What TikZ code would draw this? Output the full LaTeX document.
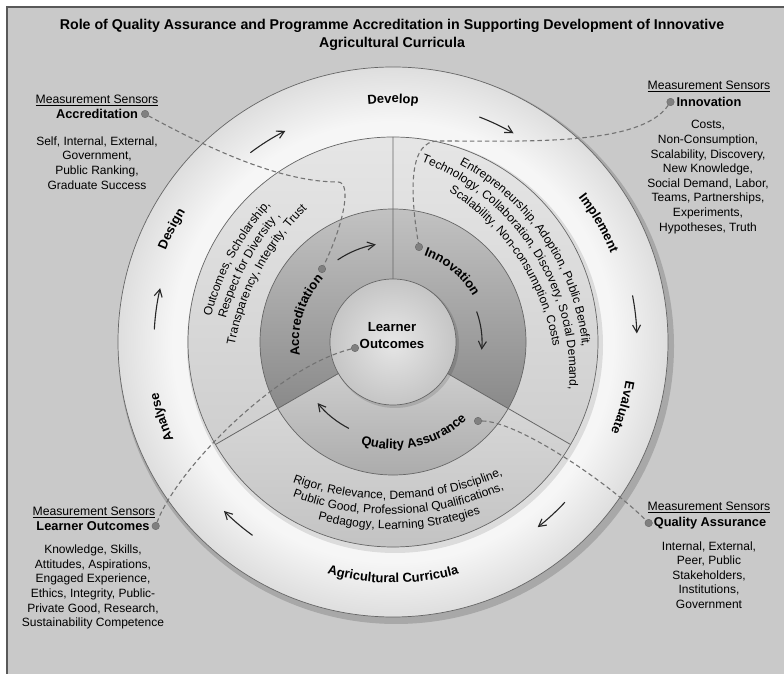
\documentclass[tikz,border=0pt]{standalone}
\usepackage{fontspec}
\setmainfont{Liberation Sans}
\usepackage{tikz}
\usetikzlibrary{arrows.meta,positioning,decorations.text}
\definecolor{curpanel}{gray}{0.79}
\definecolor{curframe}{gray}{0.35}
\definecolor{curouter}{gray}{0.965}
\definecolor{curouteredge}{gray}{0.87}
\definecolor{curmidhi}{gray}{0.90}
\definecolor{curmidlo}{gray}{0.81}
\definecolor{curqahi}{gray}{0.84}
\definecolor{curqalo}{gray}{0.75}
\definecolor{curinhi}{gray}{0.76}
\definecolor{curinlo}{gray}{0.54}
\definecolor{curinqahi}{gray}{0.80}
\definecolor{curinqalo}{gray}{0.65}
\definecolor{curcorefill}{gray}{0.84}
\definecolor{curline}{gray}{0.40}
\definecolor{curdash}{gray}{0.45}
\definecolor{curdotgray}{gray}{0.50}
\pgfdeclareradialshading{curglow}{\pgfpoint{0bp}{0bp}}{color(0bp)=(curouter); color(20bp)=(curouter); color(25bp)=(curouteredge); color(50bp)=(curouteredge)}
\newcommand\curringfont{\fontsize{13}{15}\selectfont\bfseries}
\newcommand\curbandfont{\fontsize{12}{14}\selectfont}
% text on an arc: font, mid angle, baseline radius, curvature radius, half span, text
\newcommand\curarc[6]{%
  \pgfmathsetmacro\curoff{#3-#4}%
  \pgfmathsetmacro\curst{#2+#5}%
  \pgfmathsetmacro\curen{#2-#5}%
  \path[decorate,decoration={text along path,text align=center,text={|#1|#6}}]
    ([shift={(#2:\curoff)}]\curst:#4) arc[start angle=\curst,end angle=\curen,radius=#4];}
\tikzset{
  curtitle/.style={font=\bfseries\fontsize{14.2}{17.5}\selectfont,align=center},
  curms/.style={font=\fontsize{12.2}{14}\selectfont,inner sep=1pt},
  curhead/.style={font=\bfseries\fontsize{12.8}{14}\selectfont,inner sep=1pt},
  curbody/.style={font=\fontsize{12}{14.6}\selectfont,align=center,inner sep=1pt},
  curcore/.style={font=\bfseries\fontsize{13.2}{17}\selectfont,align=center},
  curdot/.style={circle,fill=curdotgray,draw=curdotgray!80!black,line width=0.4pt,
                 inner sep=0pt,minimum size=7.5pt},
  curlink/.style={draw=curdash,line width=1.1pt,dash pattern=on 4.5pt off 3pt},
  curflow/.style={-{Straight Barb[length=2.6mm,width=2.8mm]},line width=1.1pt,black!85},
  curdivide/.style={draw=curline,line width=0.8pt},
  curedge/.style={draw=curline,line width=0.7pt}
}
\begin{document}
\begin{tikzpicture}[x=1pt,y=1pt]
  \useasboundingbox (0,0) rectangle (784,674);
  \fill[curpanel] (7,0) rectangle (784,667);
  \draw[curframe,line width=1.6pt] (7,-2) -- (7,667) -- (786,667);

  \node[curtitle] (title) at (392,639)
    {Role of Quality Assurance and Programme Accreditation in Supporting Development of Innovative\\Agricultural Curricula};

  \begin{scope}[shift={(393,332)}]
    % rings
    \fill[black,opacity=0.16] (3,-4) circle[radius=278];
    \shade[shading=curglow] (0,0) circle[radius=275];
    \draw[curedge] (0,0) circle[radius=275];
    \fill[black,opacity=0.10] (2,-3) circle[radius=208];
    \shade[top color=curmidhi,bottom color=curmidlo]
      (90:205) arc[start angle=90,end angle=210,radius=205] -- (210:133) arc[start angle=210,end angle=90,radius=133] -- cycle;
    \shade[top color=curmidhi,bottom color=curmidlo]
      (-30:205) arc[start angle=-30,end angle=90,radius=205] -- (90:133) arc[start angle=90,end angle=-30,radius=133] -- cycle;
    \shade[top color=curqahi,bottom color=curqalo]
      (210:205) arc[start angle=210,end angle=330,radius=205] -- (330:133) arc[start angle=330,end angle=210,radius=133] -- cycle;
    \shade[top color=curinhi,bottom color=curinlo]
      (90:133) arc[start angle=90,end angle=210,radius=133] -- (210:63) arc[start angle=210,end angle=90,radius=63] -- cycle;
    \shade[top color=curinhi,bottom color=curinlo]
      (-30:133) arc[start angle=-30,end angle=90,radius=133] -- (90:63) arc[start angle=90,end angle=-30,radius=63] -- cycle;
    \shade[top color=curinqahi,bottom color=curinqalo]
      (210:133) arc[start angle=210,end angle=330,radius=133] -- (330:63) arc[start angle=330,end angle=210,radius=63] -- cycle;
    \fill[black,opacity=0.12] (2,-2) circle[radius=64];
    \shade[inner color=curcorefill!60!white,outer color=curcorefill!92!black] (0,0) circle[radius=63];
    \draw[curedge] (0,0) circle[radius=205] (0,0) circle[radius=133] (0,0) circle[radius=63];
    \draw[curdivide] (90:63) -- (90:205) (-30:63) -- (-30:205) (210:63) -- (210:205);

    % outer cycle
    \curarc{\curringfont}{90}{239}{239}{25}{Develop}
    \curarc{\curringfont}{30}{235}{235}{25}{Implement}
    \curarc{\curringfont}{-16}{236}{236}{25}{Evaluate}
    \curarc{\curringfont}{270}{241}{241}{-30}{Agricultural Curricula}
    \curarc{\curringfont}{198}{240}{240}{25}{Analyse}
    \curarc{\curringfont}{153}{245}{245}{25}{Design}
    \draw[curflow] (127:237) arc[start angle=127,end angle=117,radius=237];
    \draw[curflow] (69:241) arc[start angle=69,end angle=60,radius=241];
    \draw[curflow] (11:244) arc[start angle=11,end angle=2,radius=244];
    \draw[curflow] (-43:235) arc[start angle=-43,end angle=-52,radius=235];
    \draw[curflow] (234:239) arc[start angle=234,end angle=225,radius=239];
    \draw[curflow] (177:239) arc[start angle=177,end angle=167,radius=239];

    % middle band
    \curarc{\curbandfont}{152}{180}{260}{45}{Outcomes, Scholarship,}
    \curarc{\curbandfont}{152}{165}{260}{45}{Respect for Diversity ,}
    \curarc{\curbandfont}{152}{150}{260}{45}{Transparency, Integrity, Trust}
    \curarc{\curbandfont}{34}{182}{231}{45}{Entrepreneurship, Adoption, Public Benefit,}
    \curarc{\curbandfont}{33}{166}{231}{50}{Technology, Collaboration, Discovery, Social Demand,}
    \curarc{\curbandfont}{34}{150}{231}{45}{Scalability, Non-consumption, Costs}
    \curarc{\curbandfont}{272}{157}{280}{-40}{Rigor, Relevance, Demand of Discipline,}
    \curarc{\curbandfont}{272}{172}{280}{-40}{Public Good, Professional Qualifications,}
    \curarc{\curbandfont}{272}{187}{280}{-40}{Pedagogy, Learning Strategies}

    % inner band
    \curarc{\curringfont}{163}{94}{94}{50}{Accreditation}
    \curarc{\curringfont}{50}{92}{92}{50}{Innovation}
    \curarc{\curringfont}{283}{107}{107}{-50}{Quality Assurance}
    \draw[curflow] (124:99) arc[start angle=124,end angle=100,radius=99];
    \draw[curflow] (20:89) arc[start angle=20,end angle=-5,radius=89];
    \draw[curflow] (243:97) arc[start angle=243,end angle=219,radius=97];
  \end{scope}

  \node[curcore] (core) at (392,338) {Learner\\Outcomes};

  % sensors
  \node[curms] (accms) at (97,574) {\underline{Measurement Sensors}};
  \node[curhead] (acchd) at (97,560) {Accreditation};
  \node[curdot,right=2pt of acchd] (accsdot) {};
  \node[curbody] (accbody) at (97,511) {Self, Internal, External,\\Government,\\Public Ranking,\\Graduate Success};

  \node[curms] (innms) at (709,588) {\underline{Measurement Sensors}};
  \node[curhead] (innhd) at (709,572) {Innovation};
  \node[curdot,left=1pt of innhd] (innsdot) {};
  \node[curbody] (innbody) at (708,497) {Costs,\\Non-Consumption,\\Scalability, Discovery,\\New Knowledge,\\Social Demand, Labor,\\Teams, Partnerships,\\Experiments,\\Hypotheses, Truth};

  \node[curms] (loms) at (94,162) {\underline{Measurement Sensors}};
  \node[curhead] (lohd) at (93,148) {Learner Outcomes};
  \node[curdot,right=1pt of lohd] (losdot) {};
  \node[curbody] (lobody) at (93,87) {Knowledge, Skills,\\Attitudes, Aspirations,\\Engaged Experience,\\Ethics, Integrity, Public-\\Private Good, Research,\\Sustainability Competence};

  \node[curms] (qams) at (709,167) {\underline{Measurement Sensors}};
  \node[curhead] (qahd) at (710,151) {Quality Assurance};
  \node[curdot,left=0pt of qahd] (qasdot) {};
  \node[curbody] (qabody) at (709,99) {Internal, External,\\Peer, Public\\Stakeholders,\\Institutions,\\Government};

  \node[curdot] (accidot) at (322,405) {};
  \node[curdot] (innidot) at (419,427) {};
  \node[curdot] (loidot) at (355,326) {};
  \node[curdot] (qaidot) at (478,253) {};

  \coordinate (accbend) at (338,492);
  \coordinate (innbend) at (438,533);
  \draw[curlink] (accsdot) .. controls +(70,-38) and +(-55,0) .. (accbend)
                           .. controls +(14,0) and +(22,45) .. (accidot);
  \draw[curlink] (innsdot) .. controls +(-30,-44) and +(90,0) .. (innbend)
                           .. controls +(-28,0) and +(-10,60) .. (innidot);
  \draw[curlink] (loidot) .. controls +(-80,-20) and +(20,55) .. (losdot);
  \draw[curlink] (qaidot) .. controls +(40,0) and +(-40,40) .. (qasdot);
\end{tikzpicture}
\end{document}
